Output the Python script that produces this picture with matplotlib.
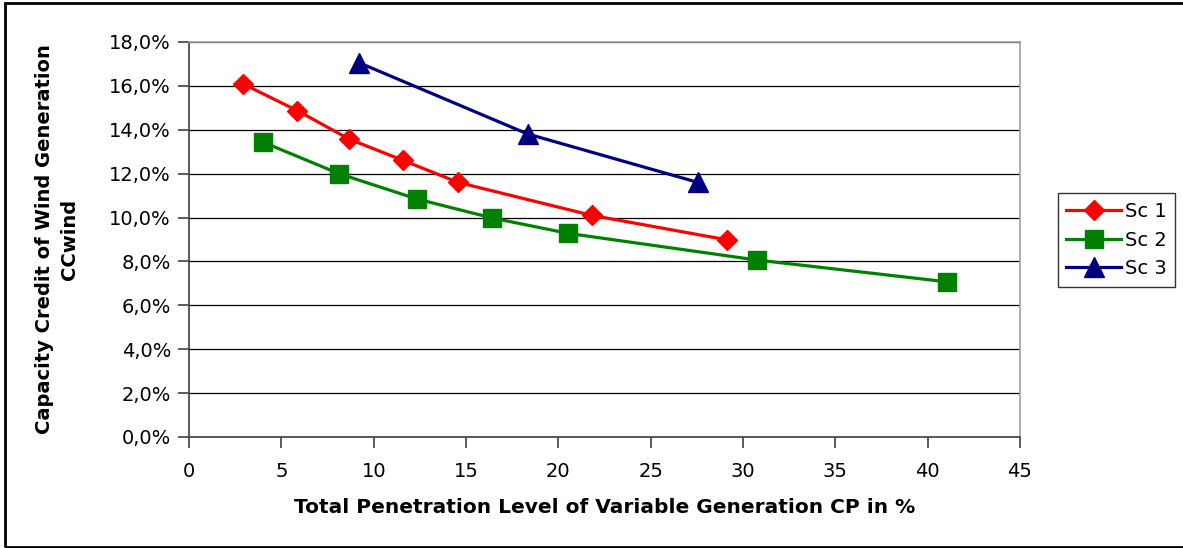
import matplotlib.pyplot as plt
from matplotlib.patches import Rectangle
from matplotlib.ticker import FuncFormatter, MultipleLocator

# Capacity credit (%) vs total penetration (%) for three scenarios
sc1_x = [2.9, 5.86, 8.68, 11.6, 14.57, 21.8, 29.15]
sc1_y = [16.1, 14.87, 13.57, 12.6, 11.6, 10.1, 8.98]

sc2_x = [4.02, 8.12, 12.32, 16.41, 20.52, 30.78, 41.05]
sc2_y = [13.43, 12.0, 10.85, 9.98, 9.28, 8.06, 7.07]

sc3_x = [9.22, 18.33, 27.56]
sc3_y = [17.05, 13.81, 11.6]

plt.rcParams['font.family'] = 'DejaVu Sans'

fig = plt.figure(figsize=(11.83, 5.48), dpi=100)
ax = fig.add_axes([0.1598, 0.2026, 0.7024, 0.7208])

ax.plot(sc1_x, sc1_y, color='#FF0000', lw=2.3, marker='D', ms=10.5, label='Sc 1')
ax.plot(sc2_x, sc2_y, color='#008000', lw=2.3, marker='s', ms=13.5, label='Sc 2')
ax.plot(sc3_x, sc3_y, color='#000080', lw=2.3, marker='^', ms=14, label='Sc 3')

ax.set_xlim(0, 45)
ax.set_ylim(0, 18)
ax.xaxis.set_major_locator(MultipleLocator(5))
ax.yaxis.set_major_locator(MultipleLocator(2))
ax.yaxis.set_major_formatter(FuncFormatter(lambda v, p: f'{v:.1f}%'.replace('.', ',')))

ax.grid(axis='y', color='black', lw=0.9)
ax.set_axisbelow(True)
for side in ['left', 'bottom']:
    ax.spines[side].set_color('#404040')
    ax.spines[side].set_linewidth(1.2)
for side in ['top', 'right']:
    ax.spines[side].set_color('#a0a0a0')
    ax.spines[side].set_linewidth(1.2)
ax.tick_params(axis='both', direction='out', length=8, width=1.2, color='#404040',
               labelsize=14, pad=5)
ax.tick_params(axis='x', pad=10)

ax.set_xlabel('Total Penetration Level of Variable Generation CP in %',
              fontsize=14.5, fontweight='bold', labelpad=12)
ax.set_ylabel('Capacity Credit of Wind Generation\nCCwind',
              fontsize=14, fontweight='bold', labelpad=22, linespacing=1.4)

leg = ax.legend(loc='center left', bbox_to_anchor=(0.894, 0.562), bbox_transform=fig.transFigure,
                fontsize=14, frameon=True, fancybox=False, handlelength=2.8,
                borderpad=0.45, labelspacing=0.5, handletextpad=0.2, borderaxespad=0)
leg.get_frame().set_edgecolor('black')
leg.get_frame().set_linewidth(1.0)

# outer chart border
fig.patches.append(Rectangle((5 / 1183, 1 / 548), 1.0, 544 / 548, transform=fig.transFigure,
                             fill=False, edgecolor='black', lw=2.0))

fig.savefig('out.png', dpi=100, facecolor='white')
